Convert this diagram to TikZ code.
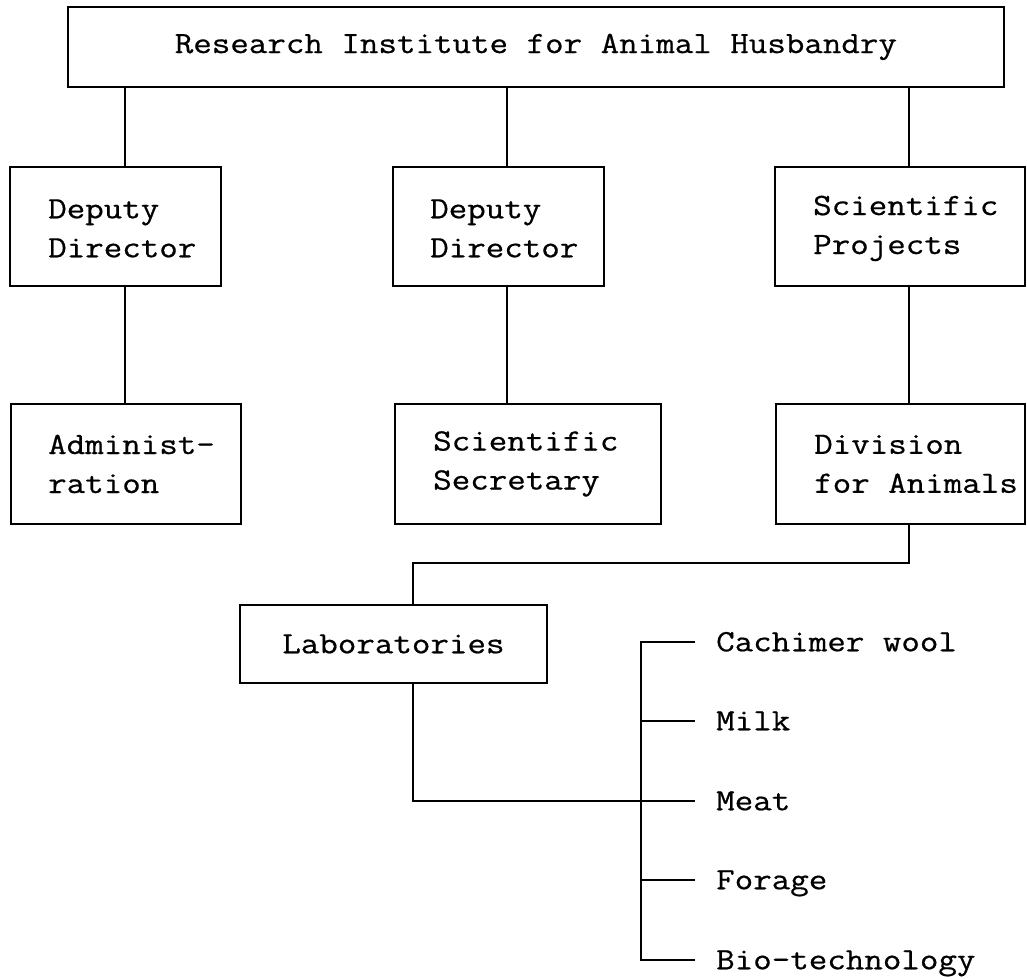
\documentclass[tikz,border=0pt]{standalone}
\usepackage{fontspec}
\newfontfamily\cour[FakeStretch=1.16,FakeBold=0.6]{Latin Modern Mono}
\begin{document}
\begin{tikzpicture}[x=1pt,y=-1pt,
  box/.style={draw, line width=1.8pt, rectangle, inner sep=0pt, anchor=north west},
  txt/.style={font=\cour\fontsize{31}{39}\selectfont, align=left, inner sep=0pt},
  conn/.style={line width=1.8pt},
  leaf/.style={txt, anchor=west, inner xsep=21pt, inner ysep=0pt, text height=18.5pt, text depth=0pt}]

\useasboundingbox (0,0) rectangle (1027,978);

% boxes
\node[box, minimum width=936pt, minimum height=80pt] (top) at (67,6) {};
\node[txt] (topt) at (top.center) {Research Institute for Animal Husbandry};

\node[box, minimum width=211pt, minimum height=119pt] (dd1) at (9,166) {};
\node[txt, anchor=west] (dd1t) at ([xshift=39pt,yshift=-2pt]dd1.west) {Deputy\\Director};

\node[box, minimum width=211pt, minimum height=119pt] (dd2) at (392,166) {};
\node[txt, anchor=west] (dd2t) at ([xshift=38pt,yshift=-2pt]dd2.west) {Deputy\\Director};

\node[box, minimum width=250pt, minimum height=119pt] (sp) at (774,166) {};
\node[txt, anchor=west] (spt) at ([xshift=39pt,yshift=-2pt]sp.west) {Scientific\\Projects};

\node[box, minimum width=230pt, minimum height=120pt] (adm) at (10,403) {};
\node[txt, anchor=west] (admt) at ([xshift=38pt]adm.west) {Administ-\\ration};

\node[box, minimum width=266pt, minimum height=120pt] (ss) at (394,403) {};
\node[txt, anchor=west] (sst) at ([xshift=39pt]ss.west) {Scientific\\Secretary};

\node[box, minimum width=249pt, minimum height=120pt] (div) at (775,403) {};
\node[txt, anchor=west] (divt) at ([xshift=39pt]div.west) {Division\\for Animals};

\node[box, minimum width=307pt, minimum height=78pt] (labs) at (239,604) {};
\node[txt] (labst) at (labs.center) {Laboratories};

% leaves
\node[leaf] (l1) at (695,642) {Cachimer wool};
\node[leaf] (l2) at (695,721) {Milk};
\node[leaf] (l3) at (695,801) {Meat};
\node[leaf] (l4) at (695,880) {Forage};
\node[leaf] (l5) at (695,960) {Bio-technology};

% connector coordinates
\coordinate (c1) at (125,0);
\coordinate (c2) at (507,0);
\coordinate (c3) at (909,0);
\coordinate (j1) at (909,563);
\coordinate (j2) at (413,563);
\coordinate (bx) at (641,0);

\draw[conn] (top.south -| c1) -- (dd1.north -| c1);
\draw[conn] (dd1.south -| c1) -- (adm.north -| c1);
\draw[conn] (top.south -| c2) -- (dd2.north -| c2);
\draw[conn] (dd2.south -| c2) -- (ss.north -| c2);
\draw[conn] (top.south -| c3) -- (sp.north -| c3);
\draw[conn] (sp.south -| c3) -- (div.north -| c3);
\draw[conn] (div.south -| j1) -- (j1) -- (j2) -- (labs.north -| j2);
\draw[conn] (labs.south -| j2) |- (l3.west);
\draw[conn] (l1.west) -- (l1.west -| bx) -- (l5.west -| bx) -- (l5.west);
\draw[conn] (l2.west -| bx) -- (l2.west);
\draw[conn] (l4.west -| bx) -- (l4.west);
\end{tikzpicture}
\end{document}
